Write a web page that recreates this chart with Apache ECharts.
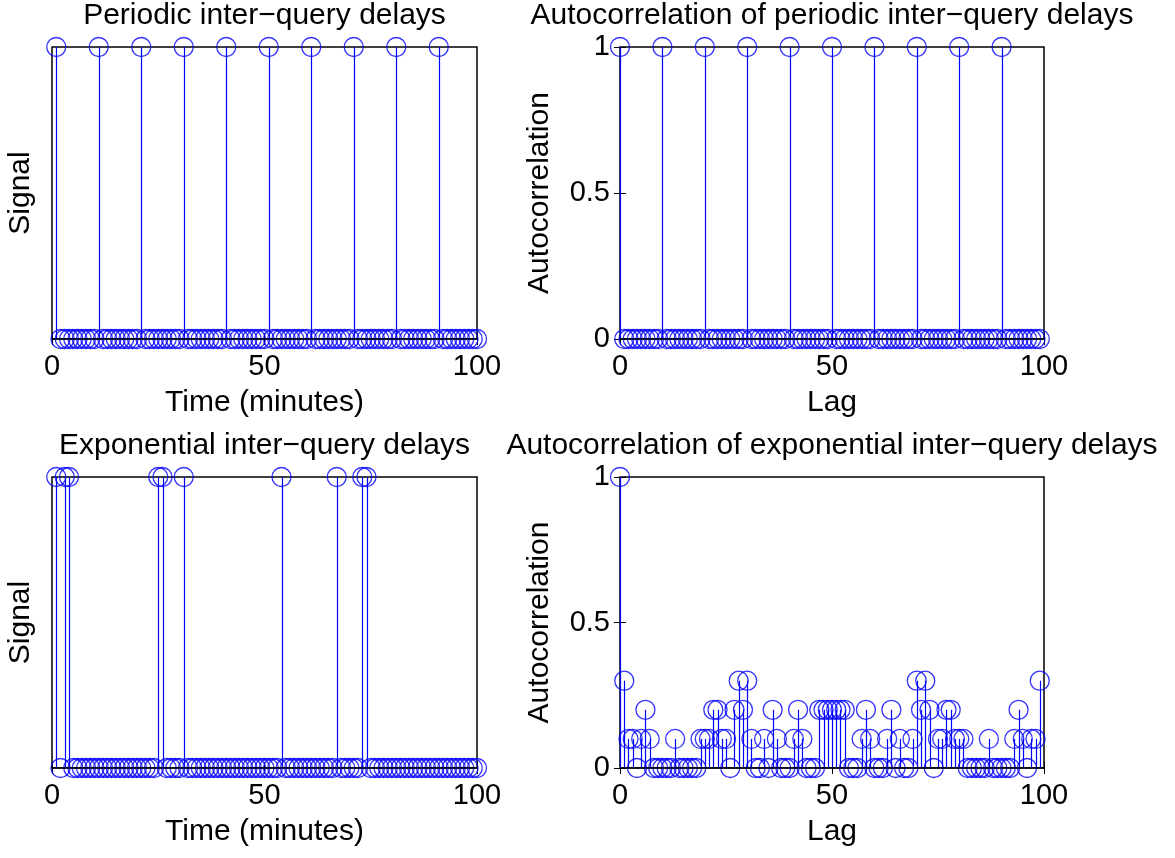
<!DOCTYPE html>
<html>
<head>
<meta charset="utf-8">
<title>Inter-query delays</title>
<script src="https://cdn.jsdelivr.net/npm/echarts@6/dist/echarts.min.js"></script>
<style>
html, body { margin: 0; padding: 0; background: #fff; }
#main { width: 1175px; height: 858px; }
</style>
</head>
<body>
<div id="main"></div>
<script>
// signal, one value per minute, t = 1..100
const periodicSignal = [
  1,0,0,0,0,0,0,0,0,0, 1,0,0,0,0,0,0,0,0,0,
  1,0,0,0,0,0,0,0,0,0, 1,0,0,0,0,0,0,0,0,0,
  1,0,0,0,0,0,0,0,0,0, 1,0,0,0,0,0,0,0,0,0,
  1,0,0,0,0,0,0,0,0,0, 1,0,0,0,0,0,0,0,0,0,
  1,0,0,0,0,0,0,0,0,0, 1,0,0,0,0,0,0,0,0,0
];
const expSignal = [
  1,0,1,1,0,0,0,0,0,0, 0,0,0,0,0,0,0,0,0,0,
  0,0,0,0,1,1,0,0,0,0, 1,0,0,0,0,0,0,0,0,0,
  0,0,0,0,0,0,0,0,0,0, 0,0,0,1,0,0,0,0,0,0,
  0,0,0,0,0,0,1,0,0,0, 0,0,1,1,0,0,0,0,0,0,
  0,0,0,0,0,0,0,0,0,0, 0,0,0,0,0,0,0,0,0,0
];
// autocorrelation, lag = 0..99
const periodicAcf = [
  1,0,0,0,0,0,0,0,0,0, 1,0,0,0,0,0,0,0,0,0,
  1,0,0,0,0,0,0,0,0,0, 1,0,0,0,0,0,0,0,0,0,
  1,0,0,0,0,0,0,0,0,0, 1,0,0,0,0,0,0,0,0,0,
  1,0,0,0,0,0,0,0,0,0, 1,0,0,0,0,0,0,0,0,0,
  1,0,0,0,0,0,0,0,0,0, 1,0,0,0,0,0,0,0,0,0
];
const expAcf = [
  1,0.3,0.1,0.1,0,0.1,0.2,0.1,0,0,
  0,0,0,0.1,0,0,0,0,0,0.1,
  0.1,0.1,0.2,0.2,0.1,0.1,0,0.2,0.3,0.2,
  0.3,0.1,0,0,0.1,0,0.2,0.1,0,0,
  0,0.1,0.2,0.1,0,0,0,0.2,0.2,0.2,
  0.2,0.2,0.2,0.2,0,0,0,0.1,0.2,0.1,
  0,0,0,0.1,0.2,0,0.1,0,0,0.1,
  0.3,0.2,0.3,0.2,0,0.1,0.1,0.2,0.2,0.1,
  0.1,0.1,0,0,0,0,0,0.1,0,0,
  0,0,0,0.1,0.2,0.1,0,0.1,0.1,0.3
];
const titles = [
  'Periodic inter\u2212query delays',
  'Autocorrelation of periodic inter\u2212query delays',
  'Exponential inter\u2212query delays',
  'Autocorrelation of exponential inter\u2212query delays'
];

const FONT = '"Liberation Sans", Arial, Helvetica, sans-serif';
const BLUE = '#0000ff';

const boxes = [
  { left: 52, top: 47, width: 425, height: 292 },
  { left: 620, top: 47, width: 424, height: 292 },
  { left: 52, top: 477, width: 425, height: 291 },
  { left: 620, top: 477, width: 424, height: 291 }
];

const panels = [
  { values: periodicSignal, start: 1, xName: 'Time (minutes)', yName: 'Signal', yLabels: false },
  { values: periodicAcf, start: 0, xName: 'Lag', yName: 'Autocorrelation', yLabels: true },
  { values: expSignal, start: 1, xName: 'Time (minutes)', yName: 'Signal', yLabels: false },
  { values: expAcf, start: 0, xName: 'Lag', yName: 'Autocorrelation', yLabels: true }
];

let grid = [], xAxis = [], yAxis = [], series = [], graphic = [];

panels.forEach((p, k) => {
  let b = boxes[k];
  grid.push(Object.assign({
    show: true,
    borderColor: '#000',
    borderWidth: 1.5,
    backgroundColor: '#fff',
    containLabel: false,
    outerBoundsMode: 'none'
  }, b));

  // bottom x axis with labels, top one only carries the ticks
  xAxis.push({
    type: 'value', gridIndex: k, min: 0, max: 100, interval: 50,
    axisLine: { show: false },
    axisTick: { show: true, inside: true, length: 6, lineStyle: { color: '#000' } },
    axisLabel: { color: '#000', fontSize: 29, fontFamily: FONT, margin: 13 },
    splitLine: { show: false },
    name: p.xName, nameLocation: 'middle', nameGap: 49,
    nameTextStyle: { color: '#000', fontSize: 30, fontFamily: FONT }
  });
  xAxis.push({
    type: 'value', gridIndex: k, position: 'top', min: 0, max: 100, interval: 50,
    axisLine: { show: false },
    axisTick: { show: true, inside: true, length: 6, lineStyle: { color: '#000' } },
    axisLabel: { show: false },
    splitLine: { show: false }
  });

  yAxis.push({
    type: 'value', gridIndex: k, min: 0, max: 1, interval: 0.5,
    axisLine: { show: false },
    axisTick: { show: p.yLabels, inside: true, length: 6, lineStyle: { color: '#000' } },
    axisLabel: { show: p.yLabels, color: '#000', fontSize: 29, fontFamily: FONT, margin: 10 },
    splitLine: { show: false },
    name: p.yName, nameLocation: 'middle', nameGap: p.yLabels ? 65 : 16,
    nameTextStyle: { color: '#000', fontSize: 30, fontFamily: FONT }
  });
  yAxis.push({
    type: 'value', gridIndex: k, position: 'right', min: 0, max: 1, interval: 0.5,
    axisLine: { show: false },
    axisTick: { show: p.yLabels, inside: true, length: 6, lineStyle: { color: '#000' } },
    axisLabel: { show: false },
    splitLine: { show: false }
  });

  let pts = p.values.map((v, i) => [i + p.start, v]);

  // stems
  series.push({
    type: 'custom',
    xAxisIndex: 2 * k, yAxisIndex: 2 * k,
    data: pts,
    encode: { x: 0, y: 1 },
    clip: false,
    silent: true,
    renderItem: function (params, api) {
      let a = api.coord([api.value(0), 0]);
      let c = api.coord([api.value(0), api.value(1)]);
      let x = Math.round(a[0]) + 0.5; // keep 1px stems crisp
      return {
        type: 'line',
        shape: { x1: x, y1: a[1], x2: x, y2: c[1] },
        style: { stroke: BLUE, lineWidth: 1.2, fill: null }
      };
    }
  });
  // open circle markers
  series.push({
    type: 'scatter',
    xAxisIndex: 2 * k, yAxisIndex: 2 * k,
    data: pts,
    symbol: 'circle',
    symbolSize: 19,
    clip: false,
    silent: true,
    itemStyle: { color: 'rgba(0,0,0,0)', borderColor: BLUE, borderWidth: 1.3 }
  });
  // baseline at zero
  series.push({
    type: 'line',
    xAxisIndex: 2 * k, yAxisIndex: 2 * k,
    data: [[0, 0], [100, 0]],
    symbol: 'none',
    silent: true,
    lineStyle: { color: '#000', width: 1.5 },
    z: 5
  });

  graphic.push({
    type: 'text',
    x: b.left + b.width / 2,
    y: b.top - 31,
    style: {
      text: titles[k],
      fontSize: 30,
      fontFamily: FONT,
      fill: '#000',
      align: 'center',
      verticalAlign: 'middle'
    }
  });
});

let myChart = echarts.init(document.getElementById('main'));
myChart.setOption({
  animation: false,
  backgroundColor: '#fff',
  grid: grid,
  xAxis: xAxis,
  yAxis: yAxis,
  series: series,
  graphic: graphic
});
</script>
</body>
</html>
